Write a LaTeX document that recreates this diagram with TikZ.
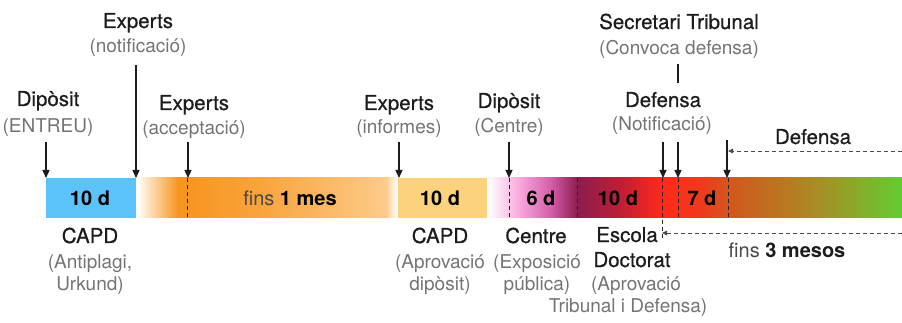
\documentclass[tikz,border=0pt]{standalone}
\usepackage{fontspec}
\setmainfont{TeX Gyre Heros}
\newfontface\medfont{TeX Gyre Heros}[FakeBold=0.6]
\usetikzlibrary{arrows.meta}
\definecolor{ink}{HTML}{1C1C1C}
\definecolor{subc}{HTML}{747474}
\definecolor{cblue}{HTML}{5BC2FA}
\definecolor{corange}{HTML}{F7941D}
\definecolor{corange2}{HTML}{F9A43C}
\definecolor{clorange}{HTML}{FDCB8A}
\definecolor{cyellow}{HTML}{FDD27C}
\definecolor{cpink}{HTML}{F7A6DC}
\definecolor{cmag}{HTML}{D25AA6}
\definecolor{cplum}{HTML}{8C1D4E}
\definecolor{ccrim}{HTML}{BE1E34}
\definecolor{cred}{HTML}{FF2A1A}
\definecolor{cred2}{HTML}{EE3A1C}
\definecolor{cburnt}{HTML}{D4561E}
\definecolor{colive}{HTML}{A88C24}
\definecolor{cgreen}{HTML}{64CC33}
\begin{document}
\begin{tikzpicture}[x=1pt,y=-1pt,
  ttl/.style={font=\medfont\fontsize{20.5}{22}\selectfont, text=ink, anchor=base, inner sep=0pt},
  subt/.style={font=\fontsize{19}{22}\selectfont, text=subc, anchor=base, inner sep=0pt},
  barlbl/.style={font=\fontsize{20}{22}\selectfont\bfseries, text=black, anchor=base, inner sep=0pt},
  arr/.style={line width=1.3pt, draw=ink, -{Triangle[length=8pt,width=7pt]}},
  plainln/.style={line width=1.3pt, draw=ink},
  dsh/.style={line width=0.9pt, draw=black!85, dash pattern=on 4pt off 3pt},
  harr/.style={line width=0.9pt, draw=black!70, dash pattern=on 4pt off 3pt, -{Triangle[length=5pt,width=4.5pt]}}
]
\useasboundingbox (0,0) rectangle (902,323);

% ---- bar ----
\fill[cblue] (46,178) rectangle (136,218);
\shade[left color=white, right color=corange] (137,178) rectangle (178.5,218);
\shade[left color=corange, right color=corange2] (178,178) rectangle (260.5,218);
\shade[left color=corange2, right color=clorange] (260,178) rectangle (386.5,218);
\shade[left color=clorange, right color=white] (386,178) rectangle (397,218);
\fill[cyellow] (398,178) rectangle (487,218);
\shade[left color=white, right color=cpink] (488,178) rectangle (520.5,218);
\shade[left color=cpink, right color=cmag] (520,178) rectangle (552.5,218);
\shade[left color=cmag, right color=cplum] (552,178) rectangle (577.5,218);
\shade[left color=cplum, right color=ccrim] (577,178) rectangle (620.5,218);
\shade[left color=ccrim, right color=cred] (620,178) rectangle (662.5,218);
\shade[left color=cred, right color=cred2] (662,178) rectangle (700.5,218);
\shade[left color=cred2, right color=cburnt] (700,178) rectangle (728.5,218);
\shade[left color=cburnt, right color=colive] (728,178) rectangle (815.5,218);
\shade[left color=colive, right color=cgreen] (815,178) rectangle (902,218);

% bar labels
\node[barlbl] (b1) at (90,206) {10 d};
\node[barlbl, font=\fontsize{20}{22}\selectfont] (b2) at (290,206) {\textcolor{ink!80}{fins} \textbf{1 mes}};
\node[barlbl] (b3) at (440,206) {10 d};
\node[barlbl] (b4) at (541,206) {6 d};
\node[barlbl] (b5) at (618,206) {10 d};
\node[barlbl] (b6) at (702,206) {7 d};

% dashed ticks inside bar
\coordinate (d1t) at (187,178); \coordinate (d1b) at (187,218);
\coordinate (d2t) at (509,178); \coordinate (d2b) at (509,218);
\coordinate (d3t) at (577,178); \coordinate (d3b) at (577,218);
\coordinate (d4t) at (662,178); \coordinate (d4b) at (662,240);
\coordinate (d5t) at (678,178); \coordinate (d5b) at (678,218);
\coordinate (d6t) at (728,178); \coordinate (d6b) at (728,218);
\draw[dsh] (d1t) -- (d1b);
\draw[dsh] (d2t) -- (d2b);
\draw[dsh] (d3t) -- (d3b);
\draw[dsh] (d4t) -- (d4b);
\draw[dsh] (d5t) -- (d5b);
\draw[dsh] (d6t) -- (d6b);

% ---- labels above ----
\node[ttl] (t1) at (48,106) {Dipòsit};
\node[subt] (s1) at (48,133) {(ENTREU)};
\node[ttl] (t2) at (138,28) {Experts};
\node[subt] (s2) at (138,53) {(notificació)};
\node[ttl] (t3) at (194,110) {Experts};
\node[subt] (s3) at (194,135) {(acceptació)};
\node[ttl] (t4) at (399,110) {Experts};
\node[subt] (s4) at (399,134) {(informes)};
\node[ttl] (t5) at (509,108) {Dipòsit};
\node[subt] (s5) at (509,133) {(Centre)};
\node[ttl] (t6) at (679,29) {Secretari Tribunal};
\node[subt] (s6) at (679,55) {(Convoca defensa)};
\node[ttl] (t7) at (663,107) {Defensa};
\node[subt] (s7) at (662,131) {(Notificació)};
\node[ttl] (t8) at (813,144) {Defensa};

% arrows down
\coordinate (a1s) at (46,142);  \coordinate (a1e) at (46,178);
\coordinate (a2s) at (136,65);  \coordinate (a2e) at (136,178);
\coordinate (a3s) at (188,142); \coordinate (a3e) at (188,178);
\coordinate (a4s) at (399,142); \coordinate (a4e) at (399,178);
\coordinate (a5s) at (509,142); \coordinate (a5e) at (509,178);
\coordinate (a6s) at (663,142); \coordinate (a6e) at (663,178);
\coordinate (a7s) at (678,142); \coordinate (a7e) at (678,178);
\coordinate (a7u) at (678,64);  \coordinate (a7v) at (678,83);
\coordinate (a8s) at (727,140); \coordinate (a8e) at (727,178);
\draw[arr] (a1s) -- (a1e);
\draw[arr] (a2s) -- (a2e);
\draw[arr] (a3s) -- (a3e);
\draw[arr] (a4s) -- (a4e);
\draw[arr] (a5s) -- (a5e);
\draw[arr] (a6s) -- (a6e);
\draw[arr] (a7s) -- (a7e);
\draw[plainln] (a7u) -- (a7v);
\draw[arr] (a8s) -- (a8e);

% horizontal dashed spans
\coordinate (h1s) at (902,151); \coordinate (h1e) at (728,151);
\coordinate (h2s) at (902,233); \coordinate (h2e) at (662,233);
\draw[harr] (h1s) -- (h1e);
\draw[harr] (h2s) -- (h2e);
\node[subt, text=ink!80, font=\fontsize{20}{22}\selectfont] (f3) at (787,258) {fins \textcolor{ink}{\textbf{3 mesos}}};

% ---- labels below ----
\node[ttl] (c1) at (90,243) {CAPD};
\node[subt] (c1a) at (90,268) {(Antiplagi,};
\node[subt] (c1b) at (90,290) {Urkund)};
\node[ttl] (c2) at (440,243) {CAPD};
\node[subt] (c2a) at (440,268) {(Aprovació};
\node[subt] (c2b) at (440,290) {dipòsit)};
\node[ttl] (c3) at (536,243) {Centre};
\node[subt] (c3a) at (537,268) {(Exposició};
\node[subt] (c3b) at (537,290) {pública)};
\node[ttl] (c4) at (627,242) {Escola};
\node[ttl] (c4b) at (632,267) {Doctorat};
\node[subt] (c4c) at (636,290) {(Aprovació};
\node[subt] (c4d) at (628,312) {Tribunal i Defensa)};
\end{tikzpicture}
\end{document}
